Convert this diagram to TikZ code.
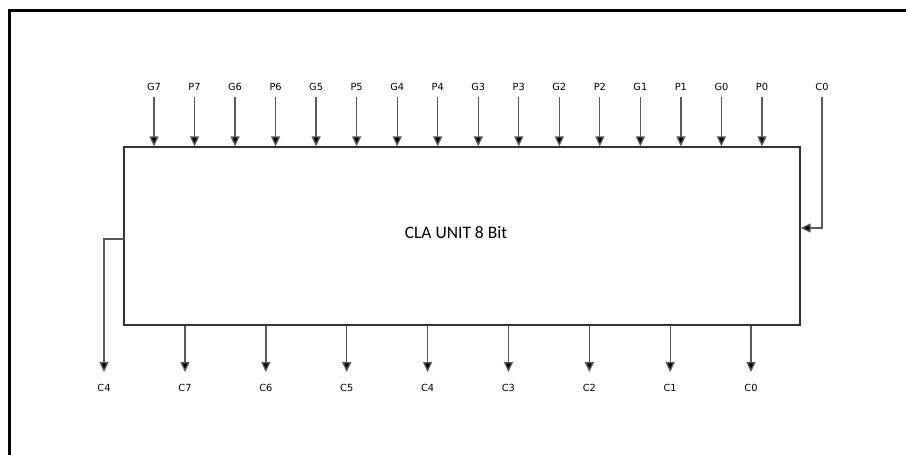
\documentclass[tikz,border=0pt]{standalone}
\usepackage{fontspec}
\newfontfamily\labelfont{DejaVu Sans}
\newfontfamily\titlefont{Carlito}
\usetikzlibrary{arrows.meta}
\begin{document}
\begin{tikzpicture}[x=1pt,y=-1pt,
  sig/.style={draw=black!65,line width=1.3pt,-{Triangle[length=10pt,width=9pt,fill=black]}},
  pin/.style={font=\labelfont\fontsize{9.8}{11}\selectfont,inner sep=0pt},
  unit/.style={draw=black!80,line width=1.3pt,minimum width=676pt,minimum height=178pt,inner sep=0pt},
  frame/.style={line width=3pt,line cap=rect}]
  \useasboundingbox (0,0) rectangle (906,455);
  % outer frame (left and top edges)
  \draw[frame] (9.7,460) -- (9.7,10.7) -- (910,10.7);
  % the carry look-ahead block
  \node[unit] (cla) at (462,236) {};
  \node[font=\titlefont\fontsize{17.5}{20}\selectfont] (title) at (456,233) {CLA UNIT 8 Bit};
  % generate / propagate inputs
  \foreach \name [count=\i from 0] in {G7,P7,G6,P6,G5,P5,G4,P4,G3,P3,G2,P2,G1,P1,G0,P0} {
    \node[pin] (in\name) at ({154+40.53*\i},87) {\name};
    \draw[sig] ([yshift=-10pt]in\name.center) -- (in\name.center |- cla.north);
  }
  % carry input
  \node[pin] (cin) at (822,87) {C0};
  \coordinate (cinbend) at (822,228);
  \draw[sig] ([yshift=-10pt]cin.center) -- (cinbend) -- (cinbend -| cla.east);
  % carry outputs
  \foreach \name [count=\i from 0] in {C7,C6,C5,C4,C3,C2,C1,C0} {
    \node[pin] (out\name) at ({185+80.86*\i},388) {\name};
    \draw[sig] (out\name.center |- cla.south) -- ([yshift=16pt]out\name.center);
  }
  % intermediate carry C4 tapped from the left side
  \node[pin] (midC4) at (104,388) {C4};
  \coordinate (tap) at (124,239);
  \draw[sig] (tap) -- (tap -| midC4.center) -- ([yshift=16pt]midC4.center);
\end{tikzpicture}
\end{document}
